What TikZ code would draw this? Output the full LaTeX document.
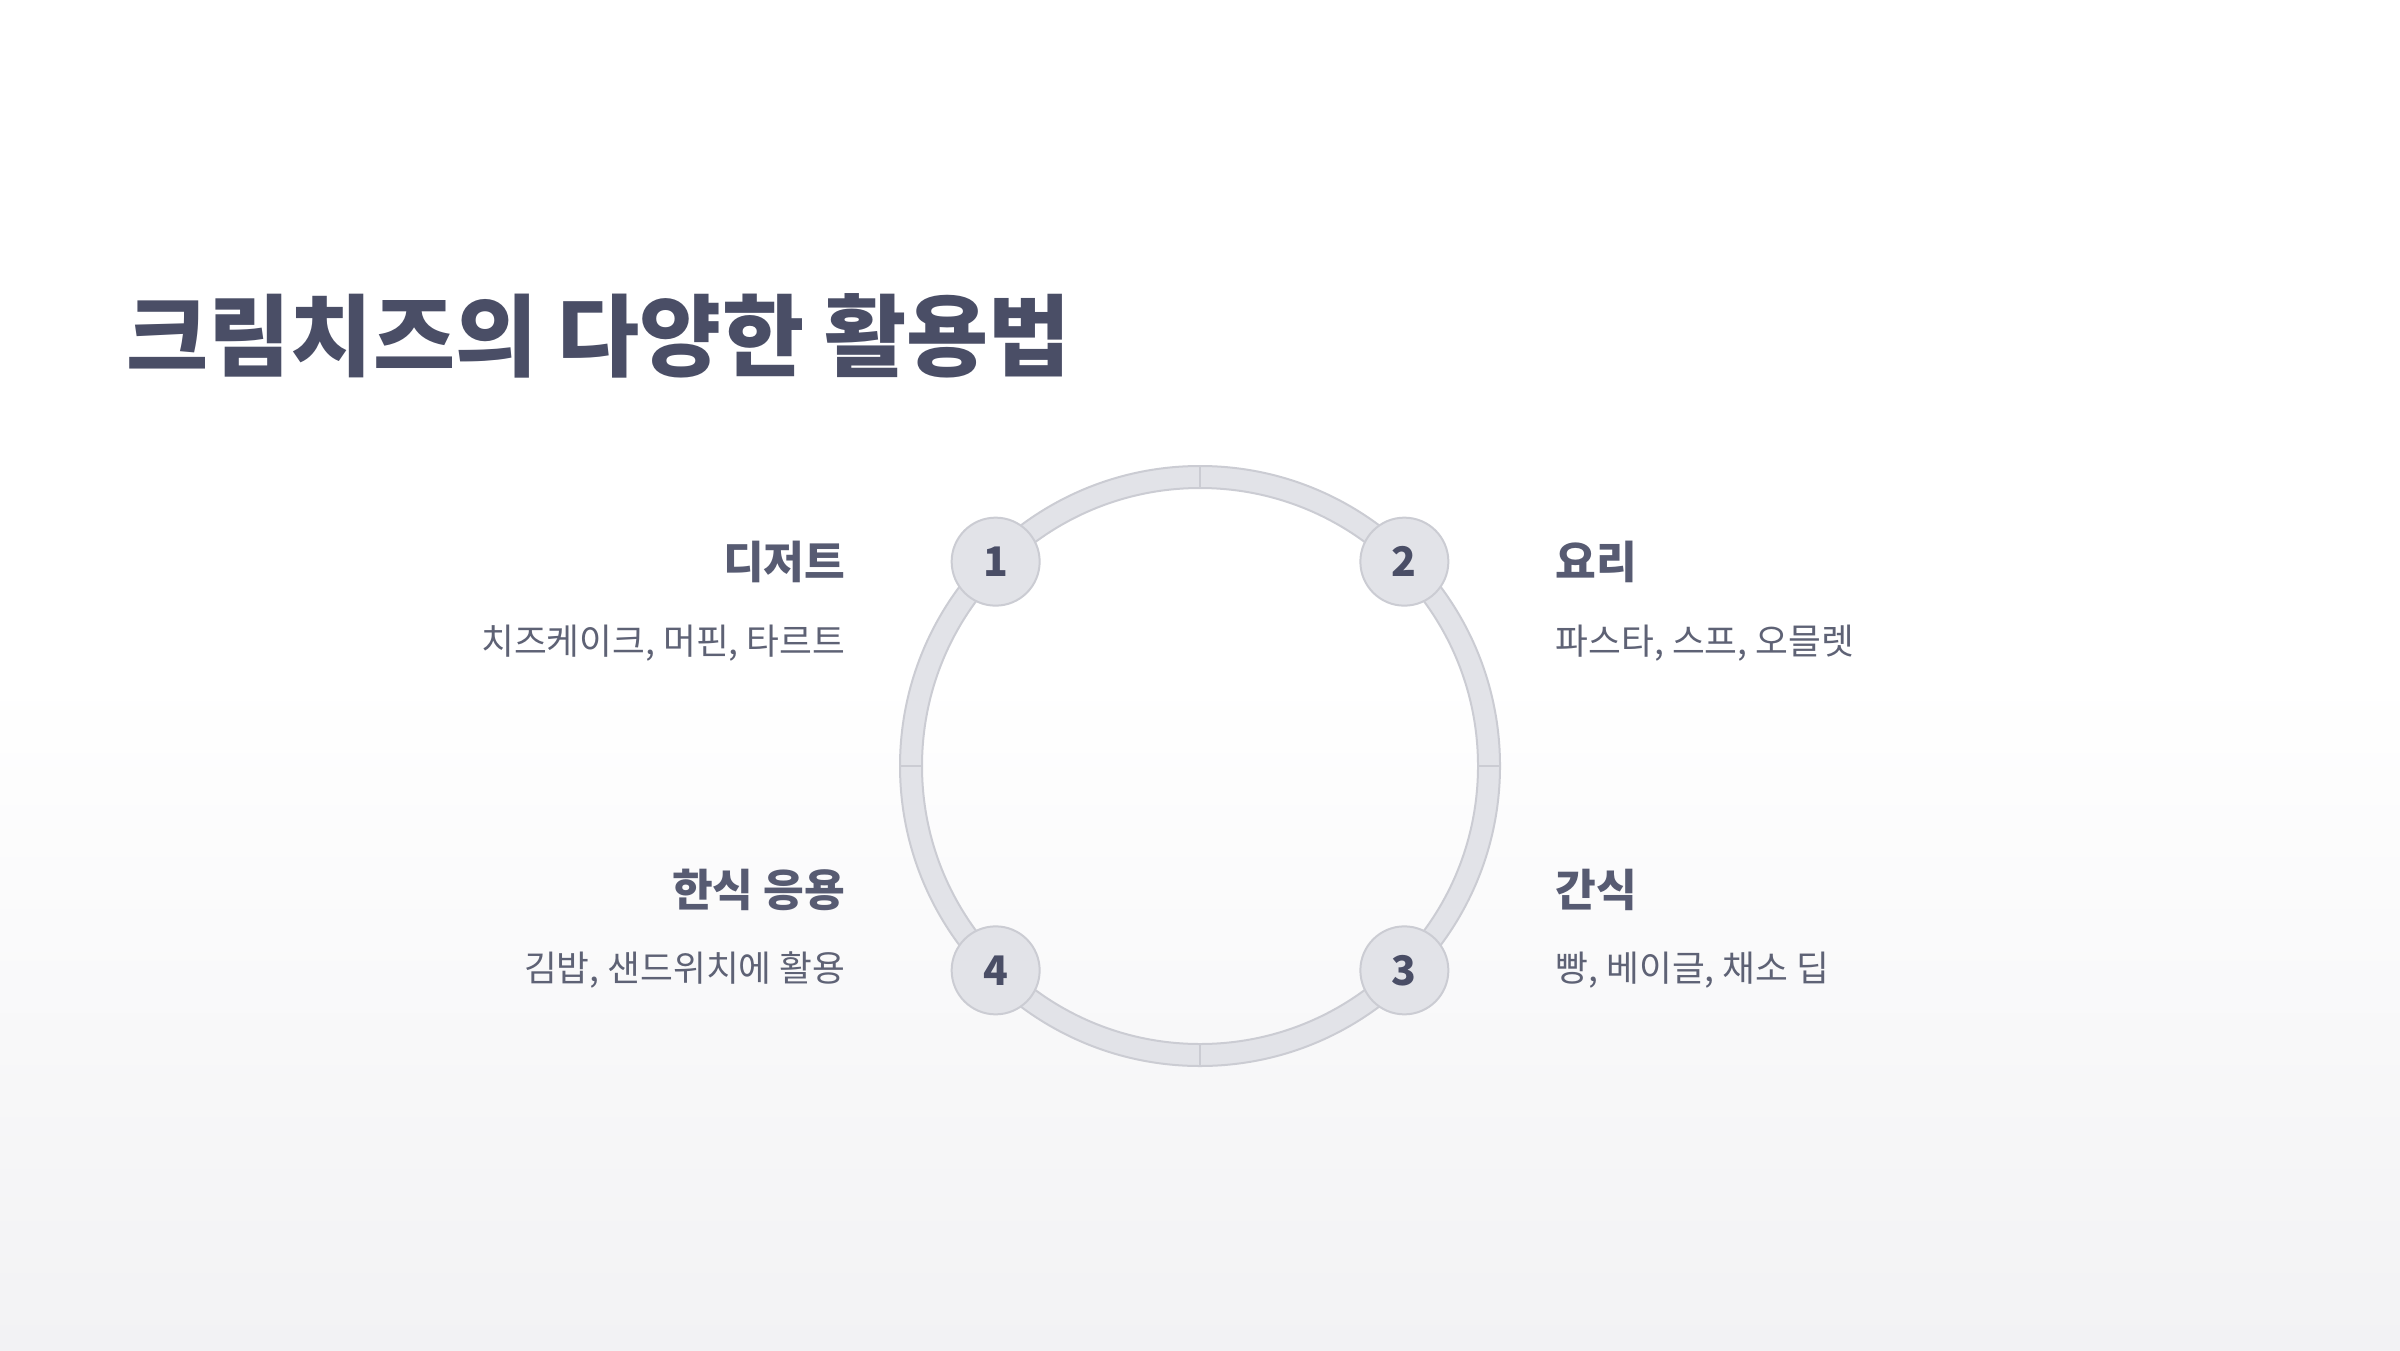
\documentclass[tikz,border=0pt]{standalone}
\usepackage{fontspec}
\usepackage{tikz}
\usetikzlibrary{positioning,calc}
\setmainfont{Noto Sans CJK KR}
\newfontfamily\krfont{Noto Sans CJK KR}

\definecolor{ringfill}{HTML}{E2E3E8}
\definecolor{ringline}{HTML}{CBCCD3}
\definecolor{titlecol}{HTML}{4A4E66}
\definecolor{headcol}{HTML}{575B72}
\definecolor{subcol}{HTML}{5E6275}
\definecolor{bgtop}{HTML}{FFFFFF}
\definecolor{bgbot}{HTML}{F2F2F4}

\tikzstyle{stepnum} = [circle, draw=ringline, line width=0.2mm, fill=ringfill,
    minimum size=8.8mm, inner sep=0pt, text=titlecol, font=\krfont\bfseries\fontsize{11.6}{12}\selectfont]
\tikzstyle{head} = [inner sep=0pt, text=headcol, font=\krfont\bfseries\fontsize{12.6}{14}\selectfont]
\tikzstyle{sub} = [inner sep=0pt, text=subcol, font=\krfont\fontsize{10.15}{12}\selectfont]

\begin{document}
\begin{tikzpicture}[x=0.1mm, y=-0.1mm]

    % Background
    \useasboundingbox (0,0) rectangle (2400,1350);
    \shade [top color=bgtop, bottom color=bgbot, middle color=bgtop] (0,0) rectangle (2400,1350);

    % Title
    \node [anchor=west, inner sep=0pt, text=titlecol,
        font=\krfont\bfseries\fontsize{25.4}{29}\selectfont] (title) at (126,336) {크림치즈의 다양한 활용법};

    % Ring
    \coordinate (c) at (1200,766);
    \draw [ringfill, line width=2.2mm] (c) circle [radius=289];
    \draw [ringline, line width=0.2mm] (c) circle [radius=300];
    \draw [ringline, line width=0.2mm] (c) circle [radius=278];
    \foreach \a in {0,90,180,270}
        \draw [ringline, line width=0.2mm] ($(c)+(\a:278)$) -- ($(c)+(\a:300)$);

    % Nodes
    \node [stepnum] (n1) at ($(c)+(-135:289)$) {1};
    \node [stepnum] (n2) at ($(c)+(-45:289)$) {2};
    \node [stepnum] (n3) at ($(c)+(45:289)$) {3};
    \node [stepnum] (n4) at ($(c)+(135:289)$) {4};

    \node [head, anchor=east] (h1) at (846,562) {디저트};
    \node [sub, anchor=east] (s1) at (846,643) {치즈케이크, 머핀, 타르트};
    \node [head, anchor=west] (h2) at (1555,562) {요리};
    \node [sub, anchor=west] (s2) at (1555,643) {파스타, 스프, 오믈렛};
    \node [head, anchor=west] (h3) at (1555,890) {간식};
    \node [sub, anchor=west] (s3) at (1555,970) {빵, 베이글, 채소 딥};
    \node [head, anchor=east] (h4) at (846,890) {한식 응용};
    \node [sub, anchor=east] (s4) at (846,970) {김밥, 샌드위치에 활용};

\end{tikzpicture}
\end{document}
